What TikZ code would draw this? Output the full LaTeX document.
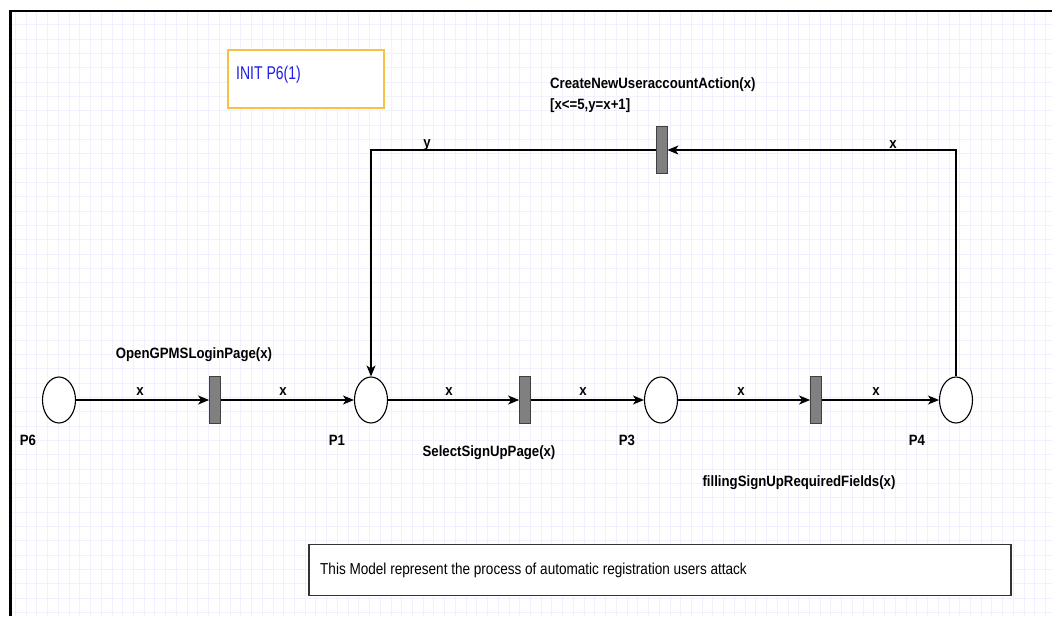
\documentclass[tikz,border=0pt]{standalone}
\usepackage{fontspec}
\usepackage{graphicx}
\setmainfont{Liberation Sans}
\usetikzlibrary{shapes.geometric,arrows.meta}
\definecolor{gridc}{RGB}{240,240,255}
\definecolor{initc}{RGB}{245,194,66}
\definecolor{bluec}{RGB}{30,30,230}
\definecolor{transc}{RGB}{128,128,128}
\newcommand{\bl}[1]{\scalebox{1.2}[1.36]{\fontsize{11pt}{13pt}\selectfont\bfseries #1}}
\newcommand{\rg}[3]{\scalebox{#2}[1.32]{\fontsize{#1}{#1}\selectfont #3}}
\tikzset{
  place/.style={ellipse,draw,line width=1.1pt,fill=white,minimum width=33pt,minimum height=46pt,inner sep=0pt},
  trans/.style={rectangle,draw=black!75,fill=transc,line width=0.8pt,minimum width=11pt,minimum height=47pt,inner sep=0pt},
  arc/.style={draw,line width=1.1pt,-{Stealth[length=11pt,width=9pt,inset=3pt]}},
  lbl/.style={inner sep=0pt,text=black},
}
\begin{document}
\begin{tikzpicture}[x=1pt,y=-1pt]
\useasboundingbox (0,0) rectangle (1052,616);
\fill[white] (0,0) rectangle (1052,616);
% grid
\foreach \k in {1,...,98} {\draw[gridc,line width=0.9pt] ({4.7+\k*10.73},12) -- ({4.7+\k*10.73},616);}
\foreach \k in {1,...,42} {\draw[gridc,line width=0.9pt] (11,{10.5+\k*14.33}) -- (1052,{10.5+\k*14.33});}
% frame
\draw[line width=2.2pt] (10.5,616) -- (10.5,11) -- (1052,11);
% INIT box
\node[draw=initc,line width=1.2pt,fill=white,minimum width=156pt,minimum height=58pt,inner sep=0pt] (init) at (306,79) {};
\node[lbl,anchor=west,text=bluec] (inittxt) at (236,75) {\rg{14pt}{1}{INIT P6(1)}};
% places
\node[place] (p6) at (59,400) {};
\node[place] (p1) at (371,400) {};
\node[place] (p3) at (661,400) {};
\node[place] (p4) at (956,400) {};
% transitions
\node[trans] (t1) at (215,400) {};
\node[trans] (t2) at (525,400) {};
\node[trans] (t3) at (816,400) {};
\node[trans] (t4) at (661.5,150) {};
% arcs
\draw[arc] (p6) -- (t1);
\draw[arc] (t1) -- (p1);
\draw[arc] (p1) -- (t2);
\draw[arc] (t2) -- (p3);
\draw[arc] (p3) -- (t3);
\draw[arc] (t3) -- (p4);
\draw[arc] (p4.north) |- (t4.east);
\draw[arc] (t4.west) -| (p1.north);
% arc labels
\node[lbl] (a1) at (140,392) {\bl{x}};
\node[lbl] (a2) at (283,392) {\bl{x}};
\node[lbl] (a3) at (449,392) {\bl{x}};
\node[lbl] (a4) at (583,392) {\bl{x}};
\node[lbl] (a5) at (741,392) {\bl{x}};
\node[lbl] (a6) at (876,392) {\bl{x}};
\node[lbl] (a7) at (427,145) {\bl{y}};
\node[lbl] (a8) at (893,145) {\bl{x}};
% place labels
\node[lbl] (l6) at (28,440) {\bl{P6}};
\node[lbl] (l1) at (337,440) {\bl{P1}};
\node[lbl] (l3) at (627,440) {\bl{P3}};
\node[lbl] (l4) at (917,440) {\bl{P4}};
% transition labels
\node[lbl] (n1) at (194,355) {\bl{OpenGPMSLoginPage(x)}};
\node[lbl] (n2) at (489,453) {\bl{SelectSignUpPage(x)}};
\node[lbl] (n3) at (799,483) {\bl{fillingSignUpRequiredFields(x)}};
\node[lbl,anchor=west] (n4) at (550,85) {\bl{CreateNewUseraccountAction(x)}};
\node[lbl,anchor=west] (n5) at (550,106) {\bl{[x<=5,y=x+1]}};
% bottom box
\node[draw=black!80,line width=1.3pt,fill=white,minimum width=702pt,minimum height=51pt,inner sep=0pt] (note) at (660,570) {};
\node[lbl,anchor=west] (notetxt) at (320,570) {\rg{12pt}{1.13}{This Model represent the process of automatic registration users attack}};
\end{tikzpicture}
\end{document}
